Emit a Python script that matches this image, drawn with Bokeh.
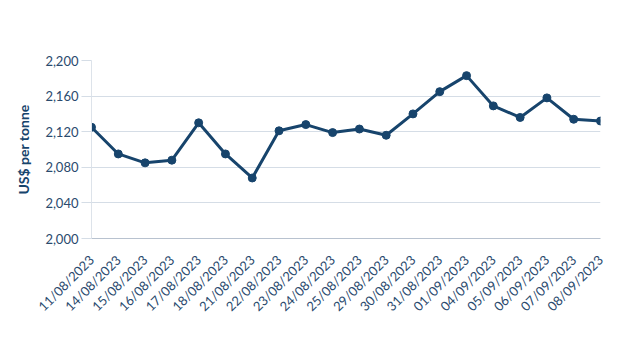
import math
from bokeh.plotting import figure
from bokeh.models import Range1d, FixedTicker, NumeralTickFormatter
from bokeh.embed import file_html
from bokeh.resources import INLINE

dates = ["11/08/2023", "14/08/2023", "15/08/2023", "16/08/2023", "17/08/2023",
         "18/08/2023", "21/08/2023", "22/08/2023", "23/08/2023", "24/08/2023",
         "25/08/2023", "29/08/2023", "30/08/2023", "31/08/2023", "01/09/2023",
         "04/09/2023", "05/09/2023", "06/09/2023", "07/09/2023", "08/09/2023"]
prices = [2125, 2095, 2085, 2088, 2130, 2095, 2068, 2121, 2128, 2119,
          2123, 2116, 2140, 2165, 2183, 2149, 2136, 2158, 2134, 2132]
y_ticks = [2000, 2040, 2080, 2120, 2160, 2200]

xs = list(range(len(dates)))
navy = "#17446c"
text_col = "#2a4a6e"

p = figure(width=626, height=356, output_backend="svg", toolbar_location=None,
           x_range=Range1d(0, len(dates) - 1), y_range=Range1d(2000, 2200))
p.min_border_left = 91
p.min_border_right = 26
p.min_border_top = 60
p.min_border_bottom = 118
p.outline_line_color = None
p.background_fill_color = "white"
p.border_fill_color = "white"

p.line(xs, prices, line_color=navy, line_width=3)
p.scatter(xs, prices, size=8, fill_color=navy, line_color=navy)

p.xaxis.ticker = FixedTicker(ticks=xs)
p.xaxis.major_label_overrides = {i: d for i, d in enumerate(dates)}
p.xaxis.major_label_orientation = math.pi / 4
p.xaxis.major_tick_line_color = None
p.xaxis.minor_tick_line_color = None
p.xaxis.axis_line_color = "#b8c2cf"
p.xaxis.major_label_text_font = "Lato"
p.xaxis.major_label_text_font_size = "13px"
p.xaxis.major_label_text_color = text_col
p.xaxis.major_label_standoff = 13

p.yaxis.ticker = FixedTicker(ticks=y_ticks)
p.yaxis.formatter = NumeralTickFormatter(format="0,0")
p.yaxis.axis_line_color = "#dde3ea"
p.yaxis.major_tick_line_color = "#d5dde6"
p.yaxis.major_tick_out = 10
p.yaxis.major_tick_in = 0
p.yaxis.minor_tick_line_color = None
p.yaxis.major_label_text_font = "Lato"
p.yaxis.major_label_text_font_size = "13px"
p.yaxis.major_label_text_color = text_col
p.yaxis.major_label_standoff = 3
p.yaxis.axis_label = "US$ per tonne"
p.yaxis.axis_label_text_font = "Lato"
p.yaxis.axis_label_text_font_size = "14px"
p.yaxis.axis_label_text_font_style = "bold"
p.yaxis.axis_label_text_color = navy
p.yaxis.axis_label_standoff = 10

p.xgrid.grid_line_color = None
p.ygrid.grid_line_color = "#d5dde6"
p.ygrid.grid_line_width = 1

open("out.html", "w").write(file_html(p, INLINE))
